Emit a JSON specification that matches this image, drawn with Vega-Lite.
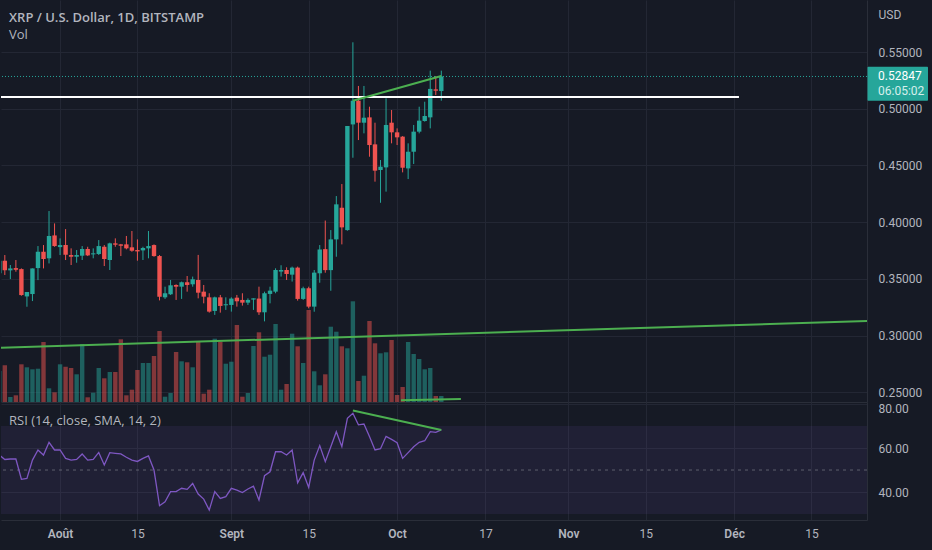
{
  "$schema": "https://vega.github.io/schema/vega-lite/v6.json",
  "background": "#161a25",
  "padding": 0,
  "bounds": "flush",
  "spacing": 0,
  "config": {
    "view": {"stroke": null},
    "font": "Roboto",
    "axis": {
      "labelColor": "#b2b5be",
      "labelFont": "Roboto",
      "labelFontSize": 12,
      "gridColor": "#232734",
      "domainColor": "#2a2e39",
      "ticks": false,
      "labelOverlap": false
    }
  },
  "datasets": {
    "ohlc": [
      {"d": "2022-07-21", "o": 0.3550, "h": 0.3680, "l": 0.3520, "c": 0.3660, "v": 31.0, "r": 56.8},
      {"d": "2022-07-22", "o": 0.3660, "h": 0.3710, "l": 0.3534, "c": 0.3575, "v": 36.7, "r": 54.8},
      {"d": "2022-07-23", "o": 0.3575, "h": 0.3622, "l": 0.3498, "c": 0.3592, "v": 5.0, "r": 55.0},
      {"d": "2022-07-24", "o": 0.3595, "h": 0.3666, "l": 0.3563, "c": 0.3580, "v": 6.7, "r": 55.0},
      {"d": "2022-07-25", "o": 0.3586, "h": 0.3592, "l": 0.3351, "c": 0.3357, "v": 37.7, "r": 45.8},
      {"d": "2022-07-26", "o": 0.3345, "h": 0.3384, "l": 0.3254, "c": 0.3384, "v": 34.7, "r": 46.2},
      {"d": "2022-07-27", "o": 0.3366, "h": 0.3592, "l": 0.3304, "c": 0.3592, "v": 32.7, "r": 54.5},
      {"d": "2022-07-28", "o": 0.3595, "h": 0.3789, "l": 0.3489, "c": 0.3739, "v": 33.3, "r": 59.1},
      {"d": "2022-07-29", "o": 0.3739, "h": 0.3798, "l": 0.3592, "c": 0.3675, "v": 60.0, "r": 56.8},
      {"d": "2022-07-30", "o": 0.3681, "h": 0.4098, "l": 0.3636, "c": 0.3878, "v": 13.7, "r": 62.6},
      {"d": "2022-07-31", "o": 0.3883, "h": 0.3989, "l": 0.3783, "c": 0.3789, "v": 9.7, "r": 59.1},
      {"d": "2022-08-01", "o": 0.3780, "h": 0.3857, "l": 0.3710, "c": 0.3798, "v": 37.7, "r": 59.1},
      {"d": "2022-08-02", "o": 0.3798, "h": 0.3939, "l": 0.3666, "c": 0.3713, "v": 35.3, "r": 55.3},
      {"d": "2022-08-03", "o": 0.3710, "h": 0.3769, "l": 0.3622, "c": 0.3695, "v": 34.0, "r": 54.5},
      {"d": "2022-08-04", "o": 0.3695, "h": 0.3754, "l": 0.3642, "c": 0.3710, "v": 27.7, "r": 54.8},
      {"d": "2022-08-05", "o": 0.3704, "h": 0.3789, "l": 0.3666, "c": 0.3763, "v": 58.0, "r": 57.3},
      {"d": "2022-08-06", "o": 0.3763, "h": 0.3783, "l": 0.3701, "c": 0.3707, "v": 4.7, "r": 54.5},
      {"d": "2022-08-07", "o": 0.3716, "h": 0.3769, "l": 0.3681, "c": 0.3725, "v": 9.3, "r": 54.8},
      {"d": "2022-08-08", "o": 0.3719, "h": 0.3842, "l": 0.3710, "c": 0.3789, "v": 34.0, "r": 58.0},
      {"d": "2022-08-09", "o": 0.3783, "h": 0.3798, "l": 0.3613, "c": 0.3675, "v": 23.7, "r": 52.3},
      {"d": "2022-08-10", "o": 0.3666, "h": 0.3819, "l": 0.3578, "c": 0.3813, "v": 30.0, "r": 57.9},
      {"d": "2022-08-11", "o": 0.3813, "h": 0.3857, "l": 0.3783, "c": 0.3801, "v": 30.0, "r": 57.6},
      {"d": "2022-08-12", "o": 0.3804, "h": 0.3808, "l": 0.3701, "c": 0.3792, "v": 62.7, "r": 57.3},
      {"d": "2022-08-13", "o": 0.3804, "h": 0.3878, "l": 0.3760, "c": 0.3769, "v": 6.7, "r": 55.8},
      {"d": "2022-08-14", "o": 0.3778, "h": 0.3922, "l": 0.3739, "c": 0.3748, "v": 12.3, "r": 54.5},
      {"d": "2022-08-15", "o": 0.3754, "h": 0.3848, "l": 0.3660, "c": 0.3742, "v": 32.0, "r": 53.9},
      {"d": "2022-08-16", "o": 0.3751, "h": 0.3783, "l": 0.3666, "c": 0.3772, "v": 39.0, "r": 55.3},
      {"d": "2022-08-17", "o": 0.3769, "h": 0.3922, "l": 0.3681, "c": 0.3789, "v": 39.0, "r": 56.4},
      {"d": "2022-08-18", "o": 0.3798, "h": 0.3804, "l": 0.3695, "c": 0.3701, "v": 46.0, "r": 50.0},
      {"d": "2022-08-19", "o": 0.3701, "h": 0.3710, "l": 0.3310, "c": 0.3342, "v": 71.0, "r": 33.8},
      {"d": "2022-08-20", "o": 0.3337, "h": 0.3431, "l": 0.3323, "c": 0.3373, "v": 5.3, "r": 35.6},
      {"d": "2022-08-21", "o": 0.3364, "h": 0.3490, "l": 0.3358, "c": 0.3443, "v": 9.0, "r": 40.2},
      {"d": "2022-08-22", "o": 0.3446, "h": 0.3452, "l": 0.3314, "c": 0.3431, "v": 50.0, "r": 40.2},
      {"d": "2022-08-23", "o": 0.3431, "h": 0.3476, "l": 0.3323, "c": 0.3470, "v": 40.7, "r": 41.7},
      {"d": "2022-08-24", "o": 0.3470, "h": 0.3525, "l": 0.3387, "c": 0.3446, "v": 39.7, "r": 41.2},
      {"d": "2022-08-25", "o": 0.3452, "h": 0.3520, "l": 0.3431, "c": 0.3496, "v": 34.7, "r": 43.9},
      {"d": "2022-08-26", "o": 0.3490, "h": 0.3711, "l": 0.3328, "c": 0.3378, "v": 60.7, "r": 39.1},
      {"d": "2022-08-27", "o": 0.3387, "h": 0.3446, "l": 0.3284, "c": 0.3343, "v": 8.3, "r": 36.8},
      {"d": "2022-08-28", "o": 0.3337, "h": 0.3373, "l": 0.3202, "c": 0.3211, "v": 12.3, "r": 31.8},
      {"d": "2022-08-29", "o": 0.3217, "h": 0.3343, "l": 0.3182, "c": 0.3337, "v": 63.3, "r": 40.2},
      {"d": "2022-08-30", "o": 0.3337, "h": 0.3358, "l": 0.3202, "c": 0.3261, "v": 60.3, "r": 37.1},
      {"d": "2022-08-31", "o": 0.3267, "h": 0.3337, "l": 0.3226, "c": 0.3276, "v": 38.3, "r": 37.9},
      {"d": "2022-09-01", "o": 0.3270, "h": 0.3337, "l": 0.3211, "c": 0.3326, "v": 40.3, "r": 41.7},
      {"d": "2022-09-02", "o": 0.3334, "h": 0.3358, "l": 0.3255, "c": 0.3302, "v": 77.0, "r": 40.9},
      {"d": "2022-09-03", "o": 0.3314, "h": 0.3373, "l": 0.3264, "c": 0.3290, "v": 5.3, "r": 39.8},
      {"d": "2022-09-04", "o": 0.3290, "h": 0.3328, "l": 0.3270, "c": 0.3314, "v": 9.0, "r": 41.4},
      {"d": "2022-09-05", "o": 0.3317, "h": 0.3328, "l": 0.3226, "c": 0.3328, "v": 56.0, "r": 42.7},
      {"d": "2022-09-06", "o": 0.3326, "h": 0.3431, "l": 0.3182, "c": 0.3205, "v": 69.7, "r": 36.4},
      {"d": "2022-09-07", "o": 0.3205, "h": 0.3387, "l": 0.3125, "c": 0.3373, "v": 45.3, "r": 47.4},
      {"d": "2022-09-08", "o": 0.3367, "h": 0.3431, "l": 0.3284, "c": 0.3396, "v": 47.3, "r": 49.2},
      {"d": "2022-09-09", "o": 0.3387, "h": 0.3593, "l": 0.3373, "c": 0.3578, "v": 78.0, "r": 58.3},
      {"d": "2022-09-10", "o": 0.3564, "h": 0.3620, "l": 0.3520, "c": 0.3578, "v": 12.3, "r": 58.3},
      {"d": "2022-09-11", "o": 0.3578, "h": 0.3602, "l": 0.3490, "c": 0.3543, "v": 18.0, "r": 56.8},
      {"d": "2022-09-12", "o": 0.3537, "h": 0.3608, "l": 0.3476, "c": 0.3599, "v": 68.3, "r": 59.1},
      {"d": "2022-09-13", "o": 0.3599, "h": 0.3608, "l": 0.3308, "c": 0.3323, "v": 55.7, "r": 44.2},
      {"d": "2022-09-14", "o": 0.3323, "h": 0.3431, "l": 0.3314, "c": 0.3417, "v": 39.0, "r": 48.8},
      {"d": "2022-09-15", "o": 0.3417, "h": 0.3431, "l": 0.3240, "c": 0.3255, "v": 92.0, "r": 42.1},
      {"d": "2022-09-16", "o": 0.3255, "h": 0.3578, "l": 0.3210, "c": 0.3555, "v": 30.7, "r": 54.5},
      {"d": "2022-09-17", "o": 0.3549, "h": 0.3798, "l": 0.3466, "c": 0.3759, "v": 16.7, "r": 61.1},
      {"d": "2022-09-18", "o": 0.3762, "h": 0.4014, "l": 0.3554, "c": 0.3577, "v": 27.7, "r": 53.8},
      {"d": "2022-09-19", "o": 0.3577, "h": 0.3930, "l": 0.3395, "c": 0.3848, "v": 75.3, "r": 60.6},
      {"d": "2022-09-20", "o": 0.3848, "h": 0.4230, "l": 0.3695, "c": 0.4157, "v": 70.3, "r": 67.4},
      {"d": "2022-09-21", "o": 0.4127, "h": 0.4336, "l": 0.3804, "c": 0.3954, "v": 55.7, "r": 60.6},
      {"d": "2022-09-22", "o": 0.3930, "h": 0.4848, "l": 0.3924, "c": 0.4848, "v": 53.7, "r": 73.5},
      {"d": "2022-09-23", "o": 0.4862, "h": 0.5586, "l": 0.4568, "c": 0.5071, "v": 100.7, "r": 75.8},
      {"d": "2022-09-24", "o": 0.5071, "h": 0.5201, "l": 0.4724, "c": 0.4877, "v": 21.0, "r": 70.5},
      {"d": "2022-09-25", "o": 0.4877, "h": 0.5201, "l": 0.4783, "c": 0.4921, "v": 26.3, "r": 70.9},
      {"d": "2022-09-26", "o": 0.4924, "h": 0.5018, "l": 0.4577, "c": 0.4680, "v": 81.0, "r": 65.2},
      {"d": "2022-09-27", "o": 0.4686, "h": 0.4877, "l": 0.4357, "c": 0.4454, "v": 58.7, "r": 59.1},
      {"d": "2022-09-28", "o": 0.4460, "h": 0.4548, "l": 0.4171, "c": 0.4489, "v": 48.7, "r": 59.7},
      {"d": "2022-09-29", "o": 0.4483, "h": 0.5092, "l": 0.4269, "c": 0.4857, "v": 49.7, "r": 65.3},
      {"d": "2022-09-30", "o": 0.4877, "h": 0.4989, "l": 0.4695, "c": 0.4792, "v": 62.0, "r": 63.9},
      {"d": "2022-10-01", "o": 0.4792, "h": 0.4827, "l": 0.4680, "c": 0.4748, "v": 7.0, "r": 62.4},
      {"d": "2022-10-02", "o": 0.4754, "h": 0.4759, "l": 0.4439, "c": 0.4480, "v": 15.0, "r": 55.3},
      {"d": "2022-10-03", "o": 0.4474, "h": 0.4695, "l": 0.4380, "c": 0.4621, "v": 60.0, "r": 57.9},
      {"d": "2022-10-04", "o": 0.4621, "h": 0.4857, "l": 0.4513, "c": 0.4798, "v": 48.0, "r": 60.6},
      {"d": "2022-10-05", "o": 0.4798, "h": 0.5018, "l": 0.4783, "c": 0.4895, "v": 43.0, "r": 62.6},
      {"d": "2022-10-06", "o": 0.4892, "h": 0.5062, "l": 0.4886, "c": 0.4936, "v": 32.7, "r": 63.3},
      {"d": "2022-10-07", "o": 0.4924, "h": 0.5336, "l": 0.4827, "c": 0.5175, "v": 34.0, "r": 67.4},
      {"d": "2022-10-08", "o": 0.5171, "h": 0.5289, "l": 0.5121, "c": 0.5159, "v": 6.0, "r": 67.1},
      {"d": "2022-10-09", "o": 0.5156, "h": 0.5336, "l": 0.5071, "c": 0.5285, "v": 6.0, "r": 68.2}
    ]
  },
  "vconcat": [
    {
      "width": 866,
      "height": 402,
      "title": {
        "text": "XRP / U.S. Dollar, 1D, BITSTAMP",
        "subtitle": "Vol",
        "anchor": "start",
        "frame": "group",
        "offset": -42,
        "dx": 8,
        "font": "Open Sans",
        "fontSize": 13,
        "fontWeight": 600,
        "color": "#b2b5be",
        "subtitleFont": "Open Sans",
        "subtitleFontSize": 13,
        "subtitleFontWeight": "normal",
        "subtitleColor": "#b2b5be",
        "subtitlePadding": 4
      },
      "layer": [
        {
          "data": {"name": "ohlc"},
          "mark": {"type": "bar", "width": 4.4, "opacity": 0.5, "clip": true},
          "encoding": {
            "x": {
              "field": "d",
              "type": "temporal",
              "title": null,
              "scale": {
                "type": "utc",
                "nice": false,
                "padding": 0,
                "domain": [
                  {"year": 2022, "month": 7, "date": 21, "hours": 7, "minutes": 23, "utc": true},
                  {"year": 2022, "month": 12, "date": 25, "hours": 1, "minutes": 12, "utc": true}
                ]
              },
              "axis": {
                "values": [
                  {"year": 2022, "month": 8, "date": 1, "utc": true},
                  {"year": 2022, "month": 8, "date": 15, "utc": true},
                  {"year": 2022, "month": 9, "date": 1, "utc": true},
                  {"year": 2022, "month": 9, "date": 15, "utc": true},
                  {"year": 2022, "month": 10, "date": 1, "utc": true},
                  {"year": 2022, "month": 10, "date": 17, "utc": true},
                  {"year": 2022, "month": 11, "date": 1, "utc": true},
                  {"year": 2022, "month": 11, "date": 15, "utc": true},
                  {"year": 2022, "month": 12, "date": 1, "utc": true},
                  {"year": 2022, "month": 12, "date": 15, "utc": true}
                ],
                "labels": false,
                "grid": true,
                "domain": true,
                "minExtent": 0,
                "maxExtent": 0
              }
            },
            "y": {"field": "v", "type": "quantitative", "scale": {"domain": [0, 402], "nice": false}, "axis": null},
            "color": {"condition": {"test": "datum.c >= datum.o", "value": "#26a69a"}, "value": "#ef5350"}
          }
        },
        {
          "layer": [
            {
              "data": {"values": [{"t1": "2022-07-21T07:23:00Z", "p1": 0.2893, "t2": "2022-12-25T01:12:00Z", "p2": 0.3128}]},
              "mark": {"type": "rule", "color": "#4caf50", "strokeWidth": 2, "clip": true},
              "encoding": {
                "x": {"field": "t1", "type": "temporal", "title": null},
                "x2": {"field": "t2"},
                "y": {
                  "field": "p1",
                  "type": "quantitative",
                  "scale": {"domain": [0.2414, 0.5959], "nice": false, "zero": false},
                  "axis": {
                    "orient": "right",
                    "values": [0.25, 0.3, 0.35, 0.4, 0.45, 0.5, 0.55],
                    "format": ".5f",
                    "labelPadding": 11,
                    "grid": true,
                    "domain": true,
                    "minExtent": 66,
                    "maxExtent": 66,
                    "title": "USD",
                    "titleAngle": 0,
                    "titleAlign": "left",
                    "titleBaseline": "middle",
                    "titleX": 11,
                    "titleY": 14,
                    "titleColor": "#b2b5be",
                    "titleFont": "Roboto",
                    "titleFontSize": 12,
                    "titleFontWeight": "normal"
                  }
                },
                "y2": {"field": "p2"}
              }
            },
            {
              "data": {"name": "ohlc"},
              "mark": {"type": "rule", "strokeWidth": 1, "clip": true},
              "encoding": {
                "x": {"field": "d", "type": "temporal", "title": null},
                "y": {"field": "l", "type": "quantitative"},
                "y2": {"field": "h"},
                "color": {"condition": {"test": "datum.c >= datum.o", "value": "#26a69a"}, "value": "#ef5350"}
              }
            },
            {
              "data": {"name": "ohlc"},
              "mark": {"type": "bar", "width": 4.4, "clip": true},
              "encoding": {
                "x": {"field": "d", "type": "temporal", "title": null},
                "y": {"field": "o", "type": "quantitative"},
                "y2": {"field": "c"},
                "color": {"condition": {"test": "datum.c >= datum.o", "value": "#26a69a"}, "value": "#ef5350"}
              }
            },
            {
              "data": {"values": [{"p": 0.52847}]},
              "mark": {"type": "rule", "color": "#26a69a", "strokeDash": [1, 2], "strokeWidth": 1},
              "encoding": {"y": {"field": "p", "type": "quantitative"}}
            },
            {
              "data": {"values": [{"t1": "2022-07-21T07:23:00Z", "t2": "2022-12-01T21:00:00Z", "p": 0.5104}]},
              "mark": {"type": "rule", "color": "#ffffff", "strokeWidth": 2, "clip": true},
              "encoding": {
                "x": {"field": "t1", "type": "temporal", "title": null},
                "x2": {"field": "t2"},
                "y": {"field": "p", "type": "quantitative"}
              }
            },
            {
              "data": {"values": [
                {"t1": "2022-09-23", "p1": 0.5071, "t2": "2022-10-09", "p2": 0.5289},
                {"t1": "2022-10-01T17:00:00Z", "p1": 0.2430, "t2": "2022-10-12T13:00:00Z", "p2": 0.2440}
              ]},
              "mark": {"type": "rule", "color": "#4caf50", "strokeWidth": 2},
              "encoding": {
                "x": {"field": "t1", "type": "temporal", "title": null},
                "x2": {"field": "t2"},
                "y": {"field": "p1", "type": "quantitative"},
                "y2": {"field": "p2"}
              }
            },
            {
              "data": {"values": [{"t1": "2022-12-25T03:20:00Z", "t2": "2023-01-05T02:10:00Z", "p1": 0.5371, "p2": 0.5071}]},
              "mark": {"type": "rect", "color": "#26a69a", "cornerRadius": 1},
              "encoding": {
                "x": {"field": "t1", "type": "temporal", "title": null},
                "x2": {"field": "t2"},
                "y": {"field": "p1", "type": "quantitative"},
                "y2": {"field": "p2"}
              }
            },
            {
              "data": {"values": [
                {"t": "2022-12-27T01:00:00Z", "p": 0.5290, "s": "0.52847", "k": 0},
                {"t": "2022-12-27T01:00:00Z", "p": 0.5155, "s": "06:05:02", "k": 1}
              ]},
              "mark": {"type": "text", "align": "left", "baseline": "middle", "font": "Roboto", "fontSize": 12},
              "encoding": {
                "x": {"field": "t", "type": "temporal", "title": null},
                "y": {"field": "p", "type": "quantitative"},
                "text": {"field": "s"},
                "color": {"condition": {"test": "datum.k == 0", "value": "#ffffff"}, "value": "#d6efec"}
              }
            }
          ]
        }
      ],
      "resolve": {"scale": {"y": "independent"}}
    },
    {
      "width": 866,
      "height": 118,
      "title": {
        "text": "RSI (14, close, SMA, 14, 2)",
        "anchor": "start",
        "frame": "group",
        "offset": -26,
        "dx": 8,
        "font": "Open Sans",
        "fontSize": 13,
        "fontWeight": "normal",
        "color": "#b2b5be"
      },
      "layer": [
        {
          "data": {"values": [{"lo": 30, "hi": 70}]},
          "mark": {"type": "rect", "color": "#7e57c2", "opacity": 0.1},
          "encoding": {
            "y": {"field": "lo", "type": "quantitative", "scale": {"domain": [27.3, 80.9], "nice": false, "zero": false}},
            "y2": {"field": "hi"}
          }
        },
        {
          "data": {"values": [{"m": 50}]},
          "mark": {"type": "rule", "color": "#787b86", "strokeDash": [3, 4], "opacity": 0.7},
          "encoding": {"y": {"field": "m", "type": "quantitative"}}
        },
        {
          "data": {"name": "ohlc"},
          "mark": {"type": "line", "color": "#7e57c2", "strokeWidth": 1.3, "clip": true},
          "encoding": {
            "x": {
              "field": "d",
              "type": "temporal",
              "title": null,
              "scale": {
                "type": "utc",
                "nice": false,
                "padding": 0,
                "domain": [
                  {"year": 2022, "month": 7, "date": 21, "hours": 7, "minutes": 23, "utc": true},
                  {"year": 2022, "month": 12, "date": 25, "hours": 1, "minutes": 12, "utc": true}
                ]
              },
              "axis": {
                "values": [
                  {"year": 2022, "month": 8, "date": 1, "utc": true},
                  {"year": 2022, "month": 8, "date": 15, "utc": true},
                  {"year": 2022, "month": 9, "date": 1, "utc": true},
                  {"year": 2022, "month": 9, "date": 15, "utc": true},
                  {"year": 2022, "month": 10, "date": 1, "utc": true},
                  {"year": 2022, "month": 10, "date": 17, "utc": true},
                  {"year": 2022, "month": 11, "date": 1, "utc": true},
                  {"year": 2022, "month": 11, "date": 15, "utc": true},
                  {"year": 2022, "month": 12, "date": 1, "utc": true},
                  {"year": 2022, "month": 12, "date": 15, "utc": true}
                ],
                "labelExpr": "utcdate(datum.value) == 1 ? ['Janv','Févr','Mars','Avr','Mai','Juin','Juil','Août','Sept','Oct','Nov','Déc'][utcmonth(datum.value)] : '' + utcdate(datum.value)",
                "labelFontWeight": {"condition": {"test": "utcdate(datum.value) == 1", "value": 600}, "value": 400},
                "labelFlush": false,
                "labelPadding": 8,
                "grid": true,
                "domain": true,
                "minExtent": 30,
                "maxExtent": 30
              }
            },
            "y": {
              "field": "r",
              "type": "quantitative",
              "axis": {
                "orient": "right",
                "values": [40, 60, 80],
                "format": ".2f",
                "labelPadding": 11,
                "labelFlush": 3,
                "grid": true,
                "domain": true,
                "minExtent": 66,
                "maxExtent": 66,
                "title": null
              }
            }
          }
        },
        {
          "data": {"values": [{"t1": "2022-09-23", "r1": 77.0, "t2": "2022-10-09", "r2": 68.2}]},
          "mark": {"type": "rule", "color": "#4caf50", "strokeWidth": 2},
          "encoding": {
            "x": {"field": "t1", "type": "temporal", "title": null},
            "x2": {"field": "t2"},
            "y": {"field": "r1", "type": "quantitative"},
            "y2": {"field": "r2"}
          }
        }
      ]
    }
  ]
}
